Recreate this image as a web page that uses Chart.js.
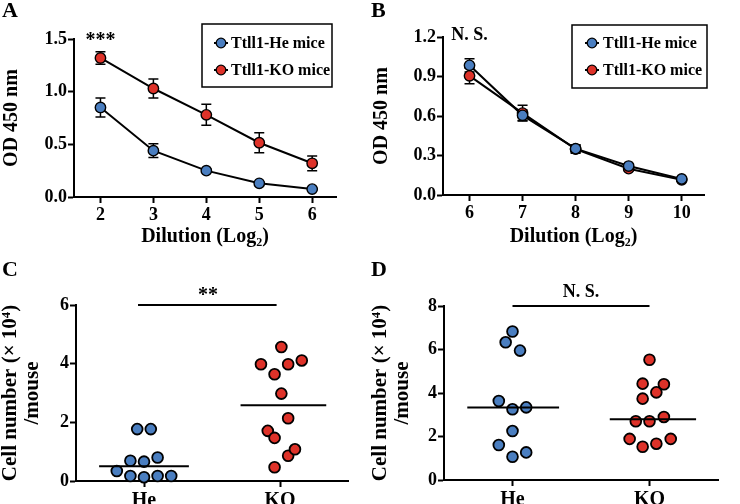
<!DOCTYPE html>
<html><head><meta charset="utf-8">
<script src="https://cdn.jsdelivr.net/npm/chart.js@4/dist/chart.umd.min.js"></script>
<style>
html,body{margin:0;padding:0;background:#fff}
body{width:740px;height:504px;position:relative;overflow:hidden}
.pane{position:absolute}
.letter{position:absolute;font:bold 22px "Liberation Serif",serif;line-height:22px;color:#000}
</style></head><body>
<div class="pane" style="left:0;top:0"><canvas id="cA" width="370" height="250"></canvas></div>
<div class="pane" style="left:370px;top:0"><canvas id="cB" width="370" height="250"></canvas></div>
<div class="pane" style="left:0;top:250px"><canvas id="cC" width="370" height="254"></canvas></div>
<div class="pane" style="left:370px;top:250px"><canvas id="cD" width="370" height="254"></canvas></div>
<div class="letter" style="left:2px;top:-1px">A</div>
<div class="letter" style="left:371px;top:-1px">B</div>
<div class="letter" style="left:2px;top:258px">C</div>
<div class="letter" style="left:371px;top:258px">D</div>
<script>
// ---------- DATA ----------
const seriesNames = ['Ttll1-He mice', 'Ttll1-KO mice'];

// Panel A
const dilutionA = [2, 3, 4, 5, 6];
const heA    = [0.85, 0.44, 0.25, 0.13, 0.075];
const heAErr = [0.09, 0.065, 0.015, 0.015, 0.01];
const koA    = [1.32, 1.03, 0.78, 0.515, 0.32];
const koAErr = [0.06, 0.09, 0.10, 0.095, 0.07];
const aXTicks = [2, 3, 4, 5, 6];
const aYTicks = [0, 0.5, 1.0, 1.5];

// Panel B
const dilutionB = [6, 7, 8, 9, 10];
const heB    = [0.985, 0.605, 0.352, 0.22, 0.122];
const heBErr = [0.05, 0.04, 0.03, 0.015, 0.01];
const koB    = [0.905, 0.622, 0.348, 0.2, 0.115];
const koBErr = [0.06, 0.06, 0.03, 0.015, 0.01];
const bXTicks = [6, 7, 8, 9, 10];
const bYTicks = [0, 0.3, 0.6, 0.9, 1.2];

// Panels C & D (scatter): groups, values, column offsets
const groups = ['He', 'KO'];
const cHe       = [1.77, 1.77, 0.69, 0.66, 0.80, 0.34, 0.17, 0.13, 0.17, 0.17];
const cHeOffset = [-0.05, 0.05, -0.10, 0.00, 0.10, -0.20, -0.10, 0.00, 0.10, 0.20];
const cKO       = [4.57, 3.98, 3.98, 4.11, 3.64, 2.98, 2.14, 1.71, 1.47, 0.86, 1.08, 0.47];
const cKOOffset = [0.01, -0.14, 0.06, 0.16, -0.04, 0.01, 0.06, -0.09, -0.04, 0.06, 0.11, -0.04];
const cMeans = [0.50, 2.58];
const cYTicks = [0, 2, 4, 6];

const dHe       = [6.83, 6.33, 5.95, 3.63, 3.25, 3.34, 2.25, 1.61, 1.07, 1.27];
const dHeOffset = [0.00, -0.05, 0.055, -0.10, 0.00, 0.10, 0.00, -0.10, 0.00, 0.10];
const dKO       = [5.53, 4.43, 4.40, 4.03, 3.74, 2.70, 2.70, 2.90, 1.89, 1.89, 1.53, 1.67];
const dKOOffset = [0.00, -0.05, 0.105, 0.05, -0.05, -0.10, 0.00, 0.105, -0.145, 0.155, -0.05, 0.05];
const dMeans = [3.33, 2.79];
const dYTicks = [0, 2, 4, 6, 8];

// ---------- STYLE ----------
const FONT = '"Liberation Serif", "Times New Roman", serif';
const BLUE = '#4a7ec0';
const RED = '#de3229';
Chart.defaults.font.family = FONT;
Chart.defaults.color = '#000';
Chart.defaults.animation = false;

// ---------- PLUGINS ----------
const errBars = {
  id: 'errBars',
  beforeDatasetsDraw(chart, args, opts) {
    if (!opts.sets) return;
    const ctx = chart.ctx, xs = chart.scales.x, ys = chart.scales.y;
    ctx.save();
    ctx.strokeStyle = '#000'; ctx.lineWidth = 1.5;
    opts.sets.forEach(s => {
      s.x.forEach((xv, i) => {
        const px = xs.getPixelForValue(xv);
        const y1 = ys.getPixelForValue(s.y[i] + s.e[i]);
        const y2 = ys.getPixelForValue(s.y[i] - s.e[i]);
        ctx.beginPath();
        ctx.moveTo(px, y1); ctx.lineTo(px, y2);
        ctx.moveTo(px - 5, y1); ctx.lineTo(px + 5, y1);
        ctx.moveTo(px - 5, y2); ctx.lineTo(px + 5, y2);
        ctx.stroke();
      });
    });
    ctx.restore();
  }
};

const boxLegend = {
  id: 'boxLegend',
  afterDraw(chart, args, opts) {
    if (!opts.items) return;
    const ctx = chart.ctx;
    const b = opts.box;
    ctx.save();
    ctx.strokeStyle = '#000'; ctx.lineWidth = 1.5;
    ctx.strokeRect(b.x, b.y, b.w, b.h);
    opts.items.forEach((it, i) => {
      const cy = b.y + opts.first + i * opts.gap;
      const mx = b.x + opts.markerX;
      ctx.beginPath(); ctx.moveTo(mx - 7, cy); ctx.lineTo(mx + 7, cy);
      ctx.lineWidth = 2; ctx.strokeStyle = '#000'; ctx.stroke();
      ctx.beginPath(); ctx.arc(mx, cy, 4.8, 0, Math.PI * 2);
      ctx.fillStyle = it.color; ctx.fill(); ctx.lineWidth = 1.3; ctx.stroke();
      ctx.fillStyle = '#000';
      ctx.font = 'bold 16px ' + FONT;
      ctx.textAlign = 'left'; ctx.textBaseline = 'middle';
      ctx.fillText(it.text, mx + opts.textGap, cy + 1);
    });
    ctx.restore();
  }
};

const notes = {
  id: 'notes',
  afterDraw(chart, args, opts) {
    if (!opts.texts) return;
    const ctx = chart.ctx, xs = chart.scales.x;
    ctx.save();
    opts.texts.forEach(t => {
      ctx.font = 'bold ' + t.size + 'px ' + FONT;
      ctx.fillStyle = '#000';
      ctx.textAlign = 'center'; ctx.textBaseline = 'alphabetic';
      ctx.fillText(t.text, xs.getPixelForValue(t.x), chart.chartArea.top + t.dy);
    });
    ctx.restore();
  }
};

// ---------- HELPERS ----------
function yAxis(min, max, ticks, width, title, fmt, titleSize, titleLH) {
  return {
    type: 'linear', min, max,
    border: { display: true, color: '#000', width: 2 },
    grid: { display: true, drawOnChartArea: false, drawTicks: true, tickLength: 6, tickWidth: 2, tickColor: '#000' },
    ticks: { color: '#000', font: { family: FONT, size: 18, weight: 'bold' }, padding: 1, callback: fmt },
    afterBuildTicks: s => { s.ticks = ticks.map(v => ({ value: v })); },
    afterFit: s => { s.width = width; },
    title: { display: true, text: title, color: '#000',
      font: { family: FONT, size: titleSize, weight: 'bold', lineHeight: titleLH || 1.2 }, padding: { top: 0, bottom: 0 } }
  };
}
function xAxis(min, max, ticks, height, title, fmt, tickSize) {
  const ax = {
    type: 'linear', min, max,
    border: { display: true, color: '#000', width: 2 },
    grid: { display: true, drawOnChartArea: false, drawTicks: true, tickLength: 6, tickWidth: 2, tickColor: '#000' },
    ticks: { color: '#000', font: { family: FONT, size: tickSize, weight: 'bold' }, padding: 2, callback: fmt, maxRotation: 0 },
    afterBuildTicks: s => { s.ticks = ticks.map(v => ({ value: v })); },
    afterFit: s => { s.height = height; },
    title: { display: false }
  };
  if (title) ax.title = { display: true, text: title, color: '#000',
    font: { family: FONT, size: 20, weight: 'bold' }, padding: { top: 0, bottom: 1 } };
  return ax;
}
function lineSet(label, xs, ys, color) {
  return {
    type: 'line', label, data: xs.map((x, i) => ({ x, y: ys[i] })),
    borderColor: '#000', borderWidth: 2, tension: 0,
    pointRadius: 5.2, pointHoverRadius: 5.2, pointBackgroundColor: color,
    pointBorderColor: '#000', pointBorderWidth: 1.4, clip: false
  };
}
function dotSet(label, center, vals, offs, color) {
  return {
    type: 'scatter', label, data: vals.map((v, i) => ({ x: center + offs[i], y: v })),
    pointRadius: 5.4, pointHoverRadius: 5.4, pointBackgroundColor: color,
    pointBorderColor: '#000', pointBorderWidth: 1.8, showLine: false, clip: false
  };
}
function segSet(x1, x2, y) {
  return {
    type: 'line', data: [{ x: x1, y }, { x: x2, y }], borderColor: '#000', borderWidth: 2,
    pointRadius: 0, clip: false
  };
}
const f1 = v => Number(v).toFixed(1);
const f0 = v => String(v);
const grp = v => groups[Math.round(v) - 1] || '';

const baseOpts = (padding) => ({
  responsive: false, animation: false, events: [],
  layout: { padding },
  plugins: { legend: { display: false }, tooltip: { enabled: false } }
});

// ---------- PANEL A ----------
{
  const o = baseOpts({ left: 0, top: 39, right: 34, bottom: 0 });
  o.scales = {
    x: xAxis(1.5, 6.45, aXTicks, 53, 'Dilution (Log\u2082)', f0, 18),
    y: yAxis(0, 1.5, aYTicks, 74, 'OD 450 nm', f1, 20)
  };
  o.plugins.errBars = { sets: [
    { x: dilutionA, y: heA, e: heAErr }, { x: dilutionA, y: koA, e: koAErr } ] };
  o.plugins.boxLegend = { box: { x: 202, y: 24, w: 130, h: 63 }, first: 19, gap: 27, markerX: 19, textGap: 10,
    items: [{ text: seriesNames[0], color: BLUE }, { text: seriesNames[1], color: RED }] };
  o.plugins.notes = { texts: [{ text: '***', x: 2, dy: 7, size: 20 }] };
  new Chart(document.getElementById('cA'), {
    type: 'line',
    data: { datasets: [lineSet(seriesNames[0], dilutionA, heA, BLUE), lineSet(seriesNames[1], dilutionA, koA, RED)] },
    options: o, plugins: [errBars, boxLegend, notes]
  });
}

// ---------- PANEL B ----------
{
  const o = baseOpts({ left: 0, top: 37, right: 36, bottom: 0 });
  o.scales = {
    x: xAxis(5.5, 10.42, bXTicks, 55, 'Dilution (Log\u2082)', f0, 18),
    y: yAxis(0, 1.2, bYTicks, 73, 'OD 450 nm', f1, 20)
  };
  o.plugins.errBars = { sets: [
    { x: dilutionB, y: heB, e: heBErr }, { x: dilutionB, y: koB, e: koBErr } ] };
  o.plugins.boxLegend = { box: { x: 202, y: 25, w: 135, h: 63 }, first: 18, gap: 27, markerX: 20, textGap: 11,
    items: [{ text: seriesNames[0], color: BLUE }, { text: seriesNames[1], color: RED }] };
  o.plugins.notes = { texts: [{ text: 'N. S.', x: 6, dy: 3, size: 18 }] };
  new Chart(document.getElementById('cB'), {
    type: 'line',
    data: { datasets: [lineSet(seriesNames[0], dilutionB, heB, BLUE), lineSet(seriesNames[1], dilutionB, koB, RED)] },
    options: o, plugins: [errBars, boxLegend, notes]
  });
}

// ---------- PANEL C ----------
{
  const o = baseOpts({ left: 0, top: 55, right: 22, bottom: 0 });
  o.scales = {
    x: xAxis(0.5, 2.5, [1, 2], 23, null, grp, 20),
    y: yAxis(0, 6, cYTicks, 76, ['Cell number (\u00D7 10\u2074)', '/mouse'], f0, 21, 1.05)
  };
  o.plugins.notes = { texts: [{ text: '**', x: 1.47, dy: -4, size: 20 }] };
  new Chart(document.getElementById('cC'), {
    type: 'scatter',
    data: { datasets: [
      segSet(0.956, 1.975, 6),
      segSet(1 - 0.33, 1 + 0.33, cMeans[0]),
      segSet(2 - 0.29, 2 + 0.34, cMeans[1]),
      dotSet('He', 1, cHe, cHeOffset, BLUE),
      dotSet('KO', 2, cKO, cKOOffset, RED)
    ] },
    options: o, plugins: [notes]
  });
}

// ---------- PANEL D ----------
{
  const o = baseOpts({ left: 0, top: 56, right: 22, bottom: 0 });
  o.scales = {
    x: xAxis(0.5, 2.5, [1, 2], 24, null, grp, 20),
    y: yAxis(0, 8, dYTicks, 74, ['Cell number (\u00D7 10\u2074)', '/mouse'], f0, 21, 1.05)
  };
  o.plugins.notes = { texts: [{ text: 'N. S.', x: 1.5, dy: -9, size: 18 }] };
  new Chart(document.getElementById('cD'), {
    type: 'scatter',
    data: { datasets: [
      segSet(1.0, 2.0, 8),
      segSet(1 - 0.33, 1 + 0.34, dMeans[0]),
      segSet(2 - 0.29, 2 + 0.34, dMeans[1]),
      dotSet('He', 1, dHe, dHeOffset, BLUE),
      dotSet('KO', 2, dKO, dKOOffset, RED)
    ] },
    options: o, plugins: [notes]
  });
}
</script>
</body></html>
